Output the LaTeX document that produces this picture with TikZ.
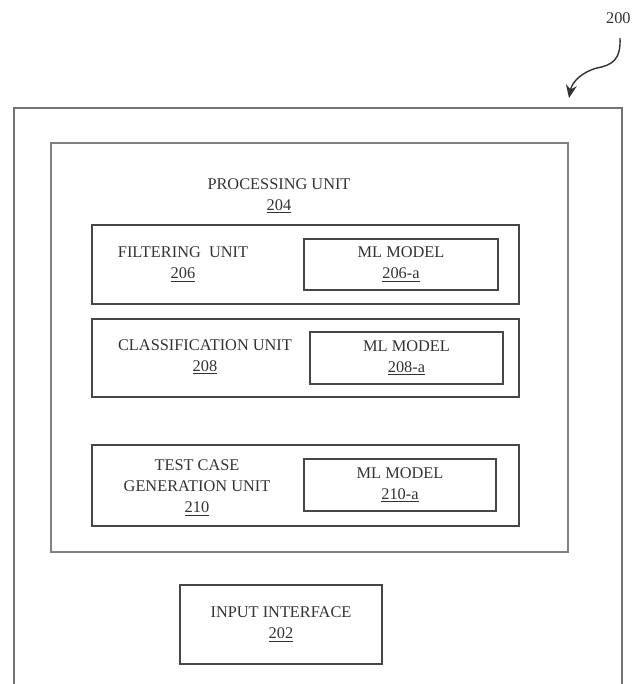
\documentclass[tikz,border=0pt]{standalone}
\usepackage{fontspec}
\setmainfont{Liberation Serif}
\usetikzlibrary{arrows.meta}

\begin{document}
\begin{tikzpicture}[x=0.02cm, y=-0.02cm,
		frame/.style={draw=black!55, line width=1pt},
		unitbox/.style={draw=black!72, line width=0.7pt, inner sep=0pt},
		lbl/.style={align=center, text=black!80, inner sep=0pt,
			font=\fontsize{9.3}{12}\selectfont}]
		%%%%% START %%%%%
		\useasboundingbox (0,0) rectangle (632,684);
		
		% outer frame, runs off the bottom of the page
		\draw[frame] (14,684) -- (14,108) -- (622,108) -- (622,684);
		
		\node[lbl, anchor=east] (ref) at (631,18) {200};
		\coordinate (refTail) at (620,38);
		\coordinate (frameTip) at (569,98);
		\draw[line width=0.8pt, color=black!80, -{Stealth[length=2.6mm, width=2.2mm]}] (refTail) .. controls (621,60) and (612,65) .. (597,68) .. controls (582,72) and (572,82) .. (frameTip);
		
		% processing unit
		\node[frame, draw=black!50, minimum width=10.34cm, minimum height=8.18cm] (proc) at (309.5,347.5) {};
		\node[lbl] (procTxt) at (279,196) {PROCESSING UNIT\\\underline{204}};
		
		% filtering unit
		\node[unitbox, minimum width=8.54cm, minimum height=1.58cm] (filt) at (305.5,264.5) {};
		\node[lbl] (filtTxt) at (183,264.5) {FILTERING~~UNIT\\\underline{206}};
		\node[unitbox, lbl, minimum width=3.88cm, minimum height=1.02cm] (mlA) at (401,264.5) {ML MODEL\\\underline{206-a}};
		
		% classification unit
		\node[unitbox, minimum width=8.54cm, minimum height=1.56cm] (cls) at (305.5,358) {};
		\node[lbl] (clsTxt) at (205,357) {CLASSIFICATION UNIT\\\underline{208}};
		\node[unitbox, lbl, minimum width=3.86cm, minimum height=1.04cm] (mlB) at (406.5,358) {ML MODEL\\\underline{208-a}};
		
		% test case generation unit
		\node[unitbox, minimum width=8.54cm, minimum height=1.62cm] (gen) at (305.5,485.5) {};
		\node[lbl] (genTxt) at (197,488) {TEST CASE\\GENERATION UNIT\\\underline{210}};
		\node[unitbox, lbl, minimum width=3.84cm, minimum height=1.04cm] (mlC) at (400,485) {ML MODEL\\\underline{210-a}};
		
		% input interface
		\node[unitbox, lbl, minimum width=4.04cm, minimum height=1.58cm] (inp) at (281,624.5) {INPUT INTERFACE\\\underline{202}};
		
		%%%%% END %%%%%
\end{tikzpicture}
\end{document}
